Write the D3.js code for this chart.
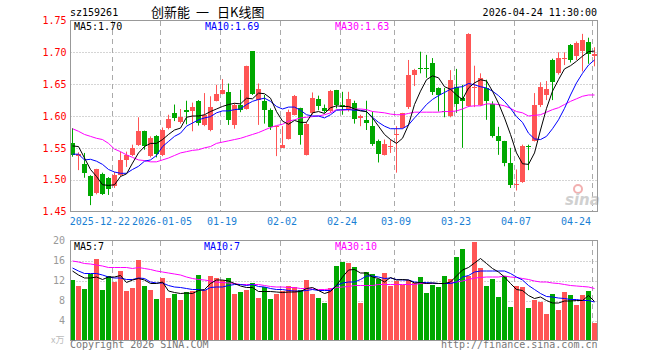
<!DOCTYPE html>
<html><head><meta charset="utf-8">
<script src="https://cdn.jsdelivr.net/npm/d3@7"></script>
<style>body{margin:0;background:#fff}svg{display:block}</style>
</head><body><svg id="c" width="660" height="360"></svg>
<script>
const dates = ["2025-12-11","2025-12-12","2025-12-15","2025-12-16","2025-12-17","2025-12-18","2025-12-19","2025-12-22","2025-12-23","2025-12-24","2025-12-25","2025-12-26","2025-12-29","2025-12-30","2025-12-31",
"2026-01-05","2026-01-06","2026-01-07","2026-01-08","2026-01-09","2026-01-12","2026-01-13","2026-01-14","2026-01-15","2026-01-16","2026-01-19","2026-01-20","2026-01-21","2026-01-22","2026-01-23","2026-01-26","2026-01-27","2026-01-28","2026-01-29","2026-01-30",
"2026-02-02","2026-02-03","2026-02-04","2026-02-05","2026-02-06","2026-02-09","2026-02-10","2026-02-11","2026-02-12","2026-02-13","2026-02-24","2026-02-25","2026-02-26","2026-02-27",
"2026-03-02","2026-03-03","2026-03-04","2026-03-05","2026-03-06","2026-03-09","2026-03-10","2026-03-11","2026-03-12","2026-03-13","2026-03-16","2026-03-17","2026-03-18","2026-03-19","2026-03-20","2026-03-23","2026-03-24","2026-03-25","2026-03-26","2026-03-27","2026-03-30","2026-03-31",
"2026-04-01","2026-04-02","2026-04-03","2026-04-07","2026-04-08","2026-04-09","2026-04-10","2026-04-13","2026-04-14","2026-04-15","2026-04-16","2026-04-17","2026-04-20","2026-04-21","2026-04-22","2026-04-23","2026-04-24"];

const open  = [1.557,1.538,1.524,1.506,1.478,1.509,1.503,1.489,1.507,1.531,1.539,1.555,1.577,1.536,1.568,1.539,1.582,1.604,1.590,1.610,1.607,1.624,1.586,1.578,1.624,1.635,1.638,1.586,1.618,1.611,1.702,1.626,1.624,1.610,1.582,1.551,1.564,1.602,1.612,1.539,1.604,1.626,1.612,1.607,1.641,1.617,1.610,1.621,1.597,1.593,1.585,1.561,1.539,1.552,1.569,1.581,1.614,1.665,1.675,1.675,1.683,1.644,1.608,1.600,1.645,1.628,1.616,1.644,1.618,1.644,1.619,1.569,1.560,1.526,1.491,1.497,1.553,1.562,1.616,1.632,1.688,1.668,1.690,1.712,1.695,1.703,1.717,1.694];
const high  = [1.581,1.543,1.542,1.507,1.517,1.511,1.504,1.512,1.544,1.544,1.555,1.598,1.577,1.568,1.570,1.582,1.602,1.618,1.611,1.624,1.621,1.625,1.636,1.631,1.649,1.658,1.651,1.620,1.641,1.679,1.702,1.651,1.633,1.612,1.584,1.584,1.610,1.633,1.613,1.590,1.637,1.632,1.618,1.641,1.641,1.638,1.638,1.624,1.602,1.624,1.607,1.563,1.563,1.563,1.584,1.605,1.688,1.674,1.701,1.696,1.691,1.645,1.644,1.672,1.674,1.649,1.730,1.679,1.667,1.657,1.623,1.583,1.561,1.550,1.516,1.555,1.555,1.636,1.653,1.655,1.690,1.700,1.700,1.713,1.717,1.729,1.723,1.708];
const low   = [1.536,1.515,1.503,1.460,1.477,1.476,1.476,1.487,1.505,1.520,1.537,1.553,1.547,1.535,1.535,1.537,1.579,1.592,1.588,1.587,1.576,1.585,1.584,1.576,1.623,1.634,1.586,1.580,1.606,1.610,1.633,1.586,1.588,1.578,1.537,1.550,1.563,1.601,1.555,1.538,1.602,1.609,1.605,1.605,1.612,1.602,1.607,1.588,1.584,1.578,1.553,1.527,1.538,1.542,1.511,1.580,1.611,1.647,1.667,1.660,1.633,1.607,1.598,1.598,1.605,1.550,1.614,1.614,1.616,1.594,1.566,1.539,1.521,1.487,1.483,1.495,1.515,1.560,1.614,1.625,1.625,1.665,1.680,1.684,1.688,1.670,1.682,1.678];
const close = [1.538,1.541,1.510,1.474,1.516,1.478,1.486,1.507,1.531,1.539,1.550,1.577,1.553,1.565,1.539,1.578,1.596,1.596,1.598,1.607,1.614,1.590,1.602,1.614,1.635,1.641,1.594,1.618,1.610,1.678,1.635,1.643,1.610,1.584,1.584,1.555,1.607,1.632,1.569,1.588,1.628,1.615,1.607,1.639,1.618,1.614,1.626,1.596,1.600,1.588,1.556,1.540,1.556,1.553,1.571,1.604,1.665,1.673,1.673,1.673,1.637,1.633,1.607,1.657,1.618,1.624,1.729,1.646,1.660,1.624,1.568,1.561,1.525,1.491,1.493,1.553,1.552,1.618,1.645,1.642,1.654,1.691,1.691,1.688,1.715,1.720,1.698,1.697];

const ma5  = [1.553,1.552,1.534,1.516,1.505,1.492,1.491,1.492,1.505,1.509,1.526,1.542,1.552,1.557,1.557,1.563,1.571,1.578,1.581,1.598,1.600,1.600,1.602,1.607,1.611,1.615,1.618,1.620,1.619,1.628,1.627,1.636,1.635,1.628,1.607,1.592,1.587,1.593,1.590,1.590,1.605,1.607,1.604,1.613,
1.616,1.615,1.615,1.611,1.608,1.607,1.597,1.584,1.571,1.563,1.557,1.565,1.586,1.618,1.639,1.657,1.663,1.660,1.646,1.642,1.633,1.626,1.644,1.652,1.657,1.655,1.639,1.620,1.597,1.571,1.542,1.525,1.524,1.542,1.578,1.612,1.639,1.657,1.674,1.679,1.686,1.694,1.701,1.702];
const ma10 = [1.540,1.540,1.531,1.532,1.529,1.524,1.516,1.512,1.510,1.510,1.516,1.521,1.529,1.531,1.538,1.552,1.560,1.568,1.573,1.584,1.589,1.594,1.597,1.599,1.605,1.608,1.608,1.610,1.611,1.618,1.623,1.626,1.628,1.623,1.615,1.611,1.614,1.614,1.609,1.602,1.600,1.600,1.597,1.602,
1.609,1.610,1.610,1.609,1.609,1.607,1.598,1.590,1.584,1.580,1.580,1.580,1.586,1.597,1.607,1.618,1.626,1.632,1.637,1.642,1.645,1.646,1.651,1.649,1.646,1.644,1.639,1.632,1.623,1.612,1.599,1.590,1.573,1.564,1.563,1.568,1.580,1.594,1.612,1.633,1.652,1.667,1.680,1.688];
const ma30 = [1.580,1.576,1.571,1.568,1.565,1.563,1.557,1.548,1.544,1.539,1.535,1.531,1.530,1.528,1.528,1.531,1.534,1.538,1.542,1.544,1.546,1.547,1.550,1.552,1.557,1.559,1.561,1.563,1.565,1.568,1.571,1.574,1.578,1.582,1.585,1.587,1.592,1.594,1.597,1.598,1.599,1.600,1.602,1.605,
1.610,1.609,1.610,1.611,1.611,1.610,1.607,1.606,1.605,1.603,1.602,1.602,1.604,1.606,1.606,1.606,1.606,1.606,1.607,1.607,1.608,1.611,1.615,1.616,1.616,1.619,1.619,1.618,1.616,1.612,1.607,1.605,1.600,1.601,1.602,1.606,1.610,1.613,1.618,1.623,1.627,1.631,1.633,1.633];

const volume = [12.1,10.9,10.4,13.4,16.3,10.2,13.0,11.7,13.9,9.9,10.5,16.1,10.9,10.1,8.4,12.5,8.6,9.3,8.2,9.7,9.9,13.1,10.1,12.9,12.6,12.1,12.6,9.3,9.7,10.2,11.5,8.6,10.7,8.4,9.3,9.9,10.9,10.7,10.1,12.1,9.3,8.6,7.6,10.5,14.9,15.7,15.5,14.7,7.6,13.7,13.3,12.3,13.5,10.9,11.9,11.1,12.1,11.5,12.7,9.5,11.1,10.7,12.9,12.3,16.7,18.3,12.9,19.7,14.5,10.9,12.3,8.8,12.9,6.8,10.9,10.7,6.6,8.2,7.8,5.4,9.3,6.2,9.7,9.1,7.2,9.1,9.9,3.6];
const vma5  = [13.9,13.1,12.5,12.5,12.7,12.2,12.7,12.7,13.0,11.6,12.1,12.4,12.1,11.4,11.4,11.7,9.9,9.6,9.4,9.5,9.4,10.0,10.2,11.4,12.1,12.1,11.9,11.4,10.9,10.6,10.6,9.8,9.8,9.8,9.7,9.6,9.7,9.7,9.8,10.4,10.6,10.0,9.4,9.8,
11.0,12.7,14.1,14.2,13.5,13.5,12.7,12.4,11.7,12.6,12.1,12.2,12.1,11.5,11.6,11.4,11.5,11.4,11.4,11.7,12.9,14.1,14.6,15.5,16.4,15.4,14.4,13.7,12.7,11.4,10.2,10.0,9.0,8.4,8.7,8.0,7.5,7.5,7.9,7.9,8.0,8.0,9.0,7.8];
const vma10 = [14.5,13.9,13.4,13.4,13.4,13.1,12.7,12.5,12.5,12.2,12.2,12.5,12.4,11.7,11.5,11.5,11.0,10.7,10.6,10.4,10.2,10.2,10.0,10.6,10.7,10.7,11.0,11.2,11.2,11.0,11.2,10.8,10.7,10.4,10.2,10.2,10.0,9.9,9.9,10.0,10.2,10.0,10.0,10.0,
11.0,11.5,11.7,11.7,12.2,12.9,12.9,12.7,12.4,12.5,12.2,12.1,12.1,11.7,11.6,11.6,11.5,11.4,11.4,11.4,11.7,12.7,13.0,13.7,13.9,13.9,13.9,13.9,13.9,13.4,12.7,12.1,11.0,10.2,9.4,8.8,8.7,8.5,8.4,8.2,8.2,8.0,8.0,7.7];
const vma30 = [15.9,15.7,15.4,15.3,15.1,14.9,14.6,14.6,14.6,14.6,14.4,14.6,14.4,14.2,13.9,13.7,13.5,13.3,13.1,12.7,12.4,12.2,12.1,11.9,11.7,11.6,11.5,11.4,11.2,11.2,11.2,11.2,11.0,10.8,10.7,10.7,10.6,10.6,10.4,10.4,10.3,10.2,10.2,10.3,
10.6,10.7,10.8,11.0,11.0,11.0,11.0,11.2,11.2,11.2,11.2,11.2,11.2,11.2,11.4,11.4,11.4,11.4,11.4,11.5,11.7,11.9,12.2,12.5,12.6,12.7,12.7,12.7,12.9,12.7,12.6,12.4,12.2,11.9,11.7,11.7,11.5,11.4,11.2,11.0,10.9,10.8,10.7,10.4];

const tickDates  = ["2025-12-22","2026-01-05","2026-01-19","2026-02-02","2026-02-24","2026-03-09","2026-03-23","2026-04-07","2026-04-24"];
const tickLabels = ["2025-12-22","2026-01-05","01-19","02-02","02-24","03-09","03-23","04-07","04-24"];
const priceTicks = [1.45,1.50,1.55,1.60,1.65,1.70,1.75];
const volTicks = [4,8,12,16,20];
const stockCode = "sz159261";
const titleParts = ["创新能", "一", "日K线图"];
const timeStamp = "2026-04-24 11:30:00";

const MONO = "'DejaVu Sans Mono', monospace";
const CJK = "'Noto Sans CJK SC', sans-serif";
const RED = "#ff5555", GREEN = "#00a800";
const svg = d3.select("#c");

const L = 70.5, R = 597.5;
const x = d3.scaleBand().domain(dates).range([69, 597]);
const cx = d => x(d) + 3.5;
const y = d3.scaleLinear().domain([1.45, 1.75]).range([211.5, 20.5]);
const vy = d3.scaleLinear().domain([0, 20]).range([340.5, 240.5]);

const idx = d3.range(dates.length);
const up = i => close[i] >= open[i];

// grids
function vgrid(y0, y1) {
  svg.append("g").selectAll("line").data(tickDates).join("line")
    .attr("x1", d => x(d) + 1.5).attr("x2", d => x(d) + 1.5)
    .attr("y1", y0).attr("y2", y1)
    .attr("stroke", "#aaa").attr("stroke-dasharray", "5,4");
}
vgrid(21, 211);
vgrid(241, 340);
svg.append("g").selectAll("line").data(priceTicks.filter(t => t > 1.46 && t < 1.74)).join("line")
  .attr("x1", L).attr("x2", R).attr("y1", d => Math.round(y(d)) + 0.5).attr("y2", d => Math.round(y(d)) + 0.5)
  .attr("stroke", "#aaa").attr("stroke-dasharray", "1,2");
svg.append("g").selectAll("line").data(volTicks.filter(t => t < 20)).join("line")
  .attr("x1", L).attr("x2", R).attr("y1", d => Math.round(vy(d)) + 0.5).attr("y2", d => Math.round(vy(d)) + 0.5)
  .attr("stroke", "#aaa").attr("stroke-dasharray", "1,2");

// watermark
const wm = svg.append("g");
wm.append("circle").attr("cx", 578).attr("cy", 189).attr("r", 4).attr("fill", "none").attr("stroke", "#f2b0b0").attr("stroke-width", 2);
wm.append("text").attr("x", 565).attr("y", 205).text("sina")
  .attr("font-family", "'DejaVu Sans', sans-serif").attr("font-size", 15).attr("font-weight", "bold")
  .attr("font-style", "italic").attr("fill", "#d0d0d0");

// candles
const cg = svg.append("g");
cg.selectAll("line").data(idx).join("line")
  .attr("x1", i => cx(dates[i])).attr("x2", i => cx(dates[i]))
  .attr("y1", i => y(high[i])).attr("y2", i => y(low[i]))
  .attr("stroke", i => up(i) ? RED : GREEN).attr("stroke-width", 1);
cg.selectAll("rect").data(idx).join("rect")
  .attr("x", i => x(dates[i]) + 1).attr("width", 5)
  .attr("y", i => Math.round(y(Math.max(open[i], close[i]))))
  .attr("height", i => Math.max(1, Math.round(Math.abs(y(open[i]) - y(close[i])))))
  .attr("fill", i => up(i) ? RED : GREEN);

// volume bars
svg.append("g").selectAll("rect").data(idx).join("rect")
  .attr("x", i => x(dates[i]) + 1).attr("width", 5)
  .attr("y", i => Math.round(vy(volume[i])))
  .attr("height", i => 340.5 - Math.round(vy(volume[i])))
  .attr("fill", i => up(i) ? RED : GREEN);

// MA lines
function maLine(arr, sc, color) {
  const line = d3.line().x((v, i) => cx(dates[i])).y(v => sc(v));
  svg.append("path").attr("d", line(arr)).attr("fill", "none").attr("stroke", color).attr("stroke-width", 1);
}
maLine(ma30, y, "#ff00ff"); maLine(ma10, y, "#0000ff"); maLine(ma5, y, "#000");
maLine(vma30, vy, "#ff00ff"); maLine(vma10, vy, "#0000ff"); maLine(vma5, vy, "#000");

// borders
svg.append("rect").attr("x", L).attr("y", 20.5).attr("width", R - L).attr("height", 191).attr("fill", "none").attr("stroke", "#999");
svg.append("rect").attr("x", L).attr("y", 240.5).attr("width", R - L).attr("height", 100).attr("fill", "none").attr("stroke", "#999");

// axes
const ay = svg.append("g").attr("transform", "translate(70,0)")
  .call(d3.axisLeft(y).tickValues(priceTicks).tickFormat(d3.format(".2f")).tickSize(0).tickPadding(3.5));
ay.select(".domain").remove();
ay.selectAll("text").attr("fill", "#ff0000").attr("font-family", MONO).attr("font-size", 10);

const av = svg.append("g").attr("transform", "translate(70,0)")
  .call(d3.axisLeft(vy).tickValues(volTicks).tickSize(0).tickPadding(5));
av.select(".domain").remove();
av.selectAll("text").attr("fill", "#999").attr("font-family", MONO).attr("font-size", 10);
svg.append("text").attr("x", 64.5).attr("y", 340).attr("dy", "0.35em").attr("text-anchor", "end")
  .attr("font-family", CJK).attr("font-size", 9).attr("fill", "#bbb").text("x万");

const ax = svg.append("g").attr("transform", "translate(0,211.5)")
  .call(d3.axisBottom(x).tickValues(tickDates).tickFormat((d, i) => tickLabels[i]).tickSize(0).tickPadding(6.4));
ax.select(".domain").remove();
ax.selectAll("text").attr("fill", "#1a7fd4").attr("font-family", MONO).attr("font-size", 10);
ax.selectAll(".tick:last-of-type text").attr("text-anchor", "end").attr("x", -3);
// keep the first, long label just clear of the second one
ax.selectAll(".tick:first-of-type text").attr("text-anchor", "end").attr("x", 16);

// header texts
svg.append("text").attr("x", 70).attr("y", 16).text(stockCode).attr("font-family", MONO).attr("font-size", 10).attr("fill", "#000");
const titleX = [151, 196, 217];
titleParts.forEach((t, i) => {
  svg.append("text").attr("x", titleX[i]).attr("y", 16.5).text(t).attr("font-family", CJK).attr("font-size", 13).attr("fill", "#000");
});
svg.append("text").attr("x", 597).attr("y", 16).attr("text-anchor", "end").text(timeStamp).attr("font-family", MONO).attr("font-size", 10).attr("fill", "#000");

// legends
const last = dates.length - 1;
function legend(xp, yp, txt, color) {
  svg.append("text").attr("x", xp).attr("y", yp).text(txt).attr("font-family", MONO).attr("font-size", 10).attr("fill", color);
}
legend(74, 30, "MA5:" + ma5[last].toFixed(2), "#000");
legend(205, 30, "MA10:" + ma10[last].toFixed(2), "#0000ff");
legend(335, 30, "MA30:" + ma30[last].toFixed(2), "#ff00ff");
legend(74, 250, "MA5:" + Math.floor(vma5[last]), "#000");
legend(204, 250, "MA10:" + Math.floor(vma10[last]), "#0000ff");
legend(335, 250, "MA30:" + Math.floor(vma30[last]), "#ff00ff");

// footer
svg.append("text").attr("x", 70).attr("y", 348).text("Copyright 2026 SINA.COM").attr("font-family", MONO).attr("font-size", 10).attr("fill", "#777");
svg.append("text").attr("x", 597.5).attr("y", 348).attr("text-anchor", "end").text("http://finance.sina.com.cn").attr("font-family", MONO).attr("font-size", 10).attr("fill", "#777");
</script></body></html>
